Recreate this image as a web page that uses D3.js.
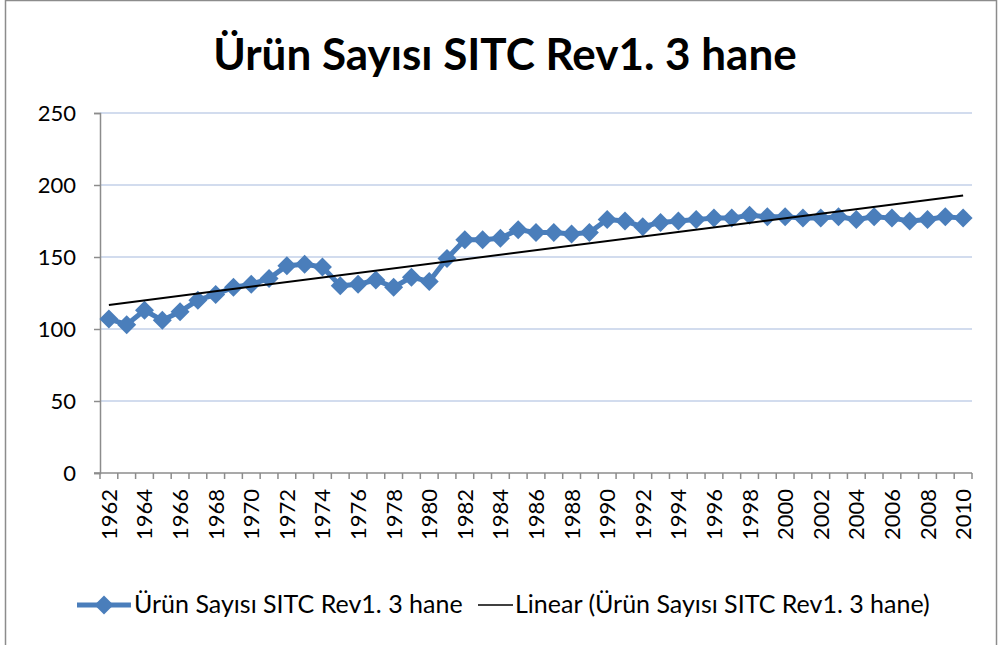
<!DOCTYPE html>
<html>
<head>
<meta charset="utf-8">
<script src="https://cdn.jsdelivr.net/npm/d3@7"></script>
<style>
  body { margin: 0; background: #fff; }
  svg { display: block; font-family: Lato, "Open Sans", "DejaVu Sans", sans-serif; }
</style>
</head>
<body>
<div id="chart"></div>
<script>
// Values
var years = d3.range(1962, 2011);
var productCounts = [107, 103, 113, 106, 112, 120, 124, 129, 131, 135,
                     144, 145, 143, 130, 131, 134, 129, 136, 133, 149,
                     162, 162, 163, 169, 167, 167, 166, 167, 176, 175,
                     171, 174, 175, 176, 177, 177, 179, 178, 178, 177,
                     177, 178, 176, 178, 177, 175, 176, 178, 177];
var yTicks = [0, 50, 100, 150, 200, 250];
var seriesName = "Ürün Sayısı SITC Rev1. 3 hane";

var W = 999, H = 645;
var margin = {top: 113, right: 27, bottom: 172, left: 100};

var svg = d3.select("#chart").append("svg").attr("width", W).attr("height", H);

// outer chart frame
svg.append("rect").attr("x", 5.5).attr("y", 0.5).attr("width", W - 8).attr("height", H + 5)
   .attr("fill", "none").attr("stroke", "#8c8c8c").attr("stroke-width", 1.5);

var x = d3.scaleBand().domain(years).range([margin.left, W - margin.right]);
var y = d3.scaleLinear().domain([0, 250]).range([H - margin.bottom, margin.top]);

// gridlines
svg.append("g").selectAll("line").data(yTicks.slice(1)).enter().append("line")
   .attr("x1", margin.left).attr("x2", W - margin.right)
   .attr("y1", function(d) { return y(d); }).attr("y2", function(d) { return y(d); })
   .attr("stroke", "#c3d1e8").attr("stroke-width", 1.5);

// y axis
var yAxis = svg.append("g").attr("transform", "translate(" + margin.left + ",0)")
   .call(d3.axisLeft(y).tickValues(yTicks).tickSize(6).tickPadding(18));
yAxis.selectAll("text").attr("font-size", 22).attr("fill", "#000").attr("font-family", "Lato, 'Open Sans', sans-serif");
yAxis.select(".domain").attr("stroke", "#8c8c8c").attr("stroke-width", 1.5);
yAxis.selectAll(".tick line").attr("stroke", "#8c8c8c").attr("stroke-width", 1.5);

// x axis: ticks between categories
var xAxisG = svg.append("g").attr("transform", "translate(0," + y(0) + ")");
xAxisG.append("line").attr("x1", margin.left - 6).attr("x2", W - margin.right)
   .attr("stroke", "#8c8c8c").attr("stroke-width", 1.5);
var boundaries = years.map(function(d) { return x(d); }).concat([x(years[years.length - 1]) + x.bandwidth()]);
xAxisG.selectAll("line.tk").data(boundaries).enter().append("line").attr("class", "tk")
   .attr("x1", function(d) { return d; }).attr("x2", function(d) { return d; })
   .attr("y1", 0).attr("y2", 6).attr("stroke", "#8c8c8c").attr("stroke-width", 1.5);
xAxisG.selectAll("text").data(years.filter(function(d, i) { return i % 2 === 0; })).enter().append("text")
   .attr("transform", function(d) { return "translate(" + (x(d) + x.bandwidth() / 2 + 8) + ",16) rotate(-90)"; })
   .attr("text-anchor", "end").attr("font-size", 22).attr("fill", "#000")
   .text(function(d) { return d; });

// linear trendline (least squares on the series)
var n = years.length;
var mx = d3.mean(years), my = d3.mean(productCounts);
var sxy = d3.sum(years, function(d, i) { return (d - mx) * (productCounts[i] - my); });
var sxx = d3.sum(years, function(d) { return (d - mx) * (d - mx); });
var slope = sxy / sxx, icpt = my - slope * mx;
var cx = function(d) { return x(d) + x.bandwidth() / 2; };

svg.append("path")
   .datum(productCounts.map(function(v, i) { return [years[i], v]; }))
   .attr("fill", "none").attr("stroke", "#4a7ebb").attr("stroke-width", 5).attr("stroke-linejoin", "round")
   .attr("d", d3.line().x(function(d) { return cx(d[0]); }).y(function(d) { return y(d[1]); }));

var diamond = d3.symbol().type(d3.symbolDiamond2).size(230);
svg.append("g").selectAll("path").data(productCounts).enter().append("path")
   .attr("transform", function(d, i) { return "translate(" + cx(years[i]) + "," + y(d) + ")"; })
   .attr("d", diamond).attr("fill", "#4a7ebb");

svg.append("line")
   .attr("x1", cx(years[0])).attr("y1", y(slope * years[0] + icpt))
   .attr("x2", cx(years[n - 1])).attr("y2", y(slope * years[n - 1] + icpt))
   .attr("stroke", "#000").attr("stroke-width", 2);

// title
svg.append("text").attr("x", 505).attr("y", 70).attr("text-anchor", "middle")
   .attr("font-size", 44).attr("font-weight", "bold").attr("fill", "#000")
   .text(seriesName);

// legend
var lg = svg.append("g").attr("transform", "translate(0,605)");
lg.append("line").attr("x1", 77).attr("x2", 131).attr("stroke", "#4a7ebb").attr("stroke-width", 5);
lg.append("path").attr("transform", "translate(104,0)").attr("d", diamond).attr("fill", "#4a7ebb");
lg.append("text").attr("x", 134).attr("y", 8).attr("font-size", 25).text(seriesName);
lg.append("line").attr("x1", 478).attr("x2", 513).attr("stroke", "#000").attr("stroke-width", 1.5);
lg.append("text").attr("x", 515).attr("y", 8).attr("font-size", 25).text("Linear (" + seriesName + ")");
</script>
</body>
</html>
